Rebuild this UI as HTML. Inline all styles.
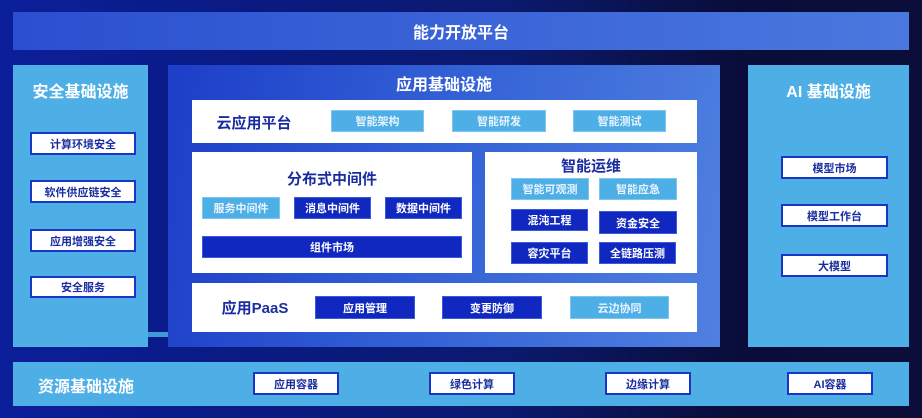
<!DOCTYPE html>
<html><head><meta charset="utf-8"><style>
*{margin:0;padding:0;box-sizing:border-box}
body{width:922px;height:418px;overflow:hidden;position:relative;font-family:"Liberation Sans","Noto Sans CJK SC",sans-serif;font-weight:bold;
background:linear-gradient(90deg,#0b1f9a 0%,#0a1a80 30%,#0b1a6e 55%,#0a0d3a 80%,#0a0e38 100%)}
div{position:absolute}
.t{display:flex;align-items:center;justify-content:center}
.lb{background:#4eaee6}
.w{background:#fff}
.dk{background:#1128c0;color:#fff;font-size:11px;border:1px solid #3a5ae0}
.lt{background:#4eaee6;color:#e8f4ff;font-size:11px;border:1px solid #7cc6f0}
.it{background:#fff;border:2px solid #1a35c8;color:#1a2da0;font-size:11px}
.h{color:#fff;font-size:16px}
.bt{color:#1a2da0}
</style></head><body>
<div class="t" style="left:13px;top:12px;width:896px;height:38px;background:linear-gradient(90deg,#2a4fd0,#4a78de);color:#fff;font-size:16px">能力开放平台</div>

<div class="lb" style="left:13px;top:65px;width:135px;height:282px"></div>
<div class="t h" style="left:13px;top:78px;width:135px;height:24px">安全基础设施</div>
<div class="t it" style="left:30px;top:132px;width:106px;height:23px">计算环境安全</div>
<div class="t it" style="left:30px;top:180px;width:106px;height:23px">软件供应链安全</div>
<div class="t it" style="left:30px;top:229px;width:106px;height:23px">应用增强安全</div>
<div class="t it" style="left:30px;top:276px;width:106px;height:22px">安全服务</div>
<div style="left:148px;top:332px;width:20px;height:5px;background:#3f9ad8"></div>

<div style="left:168px;top:65px;width:552px;height:282px;background:linear-gradient(100deg,#1d3ec8 0%,#3462d6 50%,#4f80e0 100%)"></div>
<div class="t h" style="left:168px;top:70px;width:552px;height:26px">应用基础设施</div>

<div class="w" style="left:192px;top:100px;width:505px;height:43px"></div>
<div class="t bt" style="left:212px;top:110px;width:84px;height:24px;font-size:15px">云应用平台</div>
<div class="t lt" style="left:331px;top:110px;width:93px;height:22px">智能架构</div>
<div class="t lt" style="left:452px;top:110px;width:94px;height:22px">智能研发</div>
<div class="t lt" style="left:573px;top:110px;width:93px;height:22px">智能测试</div>

<div class="w" style="left:192px;top:152px;width:280px;height:121px"></div>
<div class="t bt" style="left:192px;top:166px;width:280px;height:24px;font-size:15px">分布式中间件</div>
<div class="t lt" style="left:202px;top:197px;width:78px;height:22px">服务中间件</div>
<div class="t dk" style="left:294px;top:197px;width:77px;height:22px">消息中间件</div>
<div class="t dk" style="left:385px;top:197px;width:77px;height:22px">数据中间件</div>
<div class="t dk" style="left:202px;top:236px;width:260px;height:22px">组件市场</div>

<div class="w" style="left:485px;top:152px;width:212px;height:121px"></div>
<div class="t bt" style="left:485px;top:154px;width:212px;height:22px;font-size:15px">智能运维</div>
<div class="t lt" style="left:511px;top:178px;width:78px;height:22px">智能可观测</div>
<div class="t lt" style="left:599px;top:178px;width:78px;height:22px">智能应急</div>
<div class="t dk" style="left:511px;top:209px;width:77px;height:22px">混沌工程</div>
<div class="t dk" style="left:599px;top:211px;width:78px;height:23px">资金安全</div>
<div class="t dk" style="left:511px;top:242px;width:77px;height:22px">容灾平台</div>
<div class="t dk" style="left:599px;top:242px;width:77px;height:22px">全链路压测</div>

<div class="w" style="left:192px;top:283px;width:505px;height:49px"></div>
<div class="t bt" style="left:215px;top:296px;width:80px;height:22px;font-size:15px">应用PaaS</div>
<div class="t dk" style="left:315px;top:296px;width:100px;height:23px">应用管理</div>
<div class="t dk" style="left:442px;top:296px;width:100px;height:23px">变更防御</div>
<div class="t lt" style="left:570px;top:296px;width:99px;height:23px">云边协同</div>

<div class="lb" style="left:748px;top:65px;width:161px;height:282px"></div>
<div class="t h" style="left:748px;top:78px;width:161px;height:24px">AI 基础设施</div>
<div class="t it" style="left:781px;top:156px;width:107px;height:23px">模型市场</div>
<div class="t it" style="left:781px;top:204px;width:107px;height:23px">模型工作台</div>
<div class="t it" style="left:781px;top:254px;width:107px;height:23px">大模型</div>

<div class="lb" style="left:13px;top:362px;width:896px;height:44px"></div>
<div class="t h" style="left:28px;top:373px;width:116px;height:24px">资源基础设施</div>
<div class="t it" style="left:253px;top:372px;width:86px;height:23px">应用容器</div>
<div class="t it" style="left:429px;top:372px;width:86px;height:23px">绿色计算</div>
<div class="t it" style="left:605px;top:372px;width:86px;height:23px">边缘计算</div>
<div class="t it" style="left:787px;top:372px;width:86px;height:23px">AI容器</div>
</body></html>
